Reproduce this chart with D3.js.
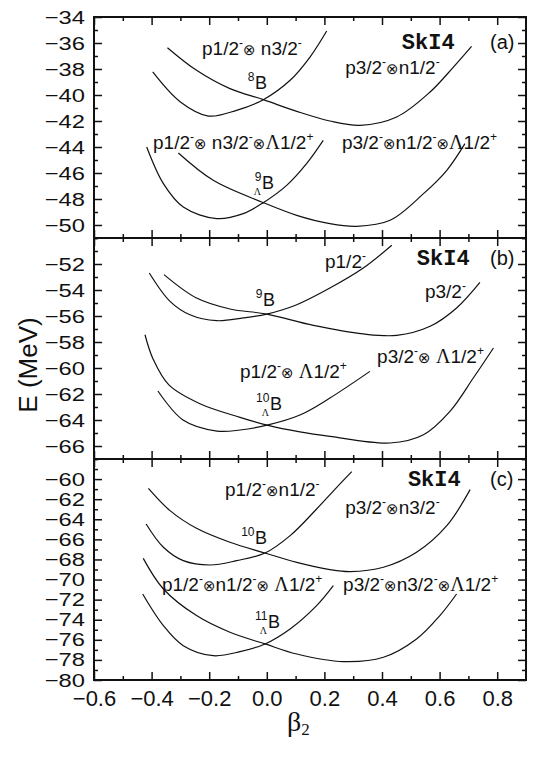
<!DOCTYPE html>
<html lang="en">
<head>
<meta charset="UTF-8">
<title>SkI4 deformation curves</title>
<style>
  body { margin: 0; background: #fff; }
  svg { display: block; font-family: Arial, "Liberation Sans", sans-serif; }
  .curve { fill: none; stroke: #111; stroke-width: 1.2px; }
  .frame { fill: none; stroke: #111; stroke-width: 2px; }
  .tick line { stroke: #111; stroke-width: 1.5px; }
  .lbl { font-size: 19px; fill: #111; }
</style>
</head>
<body>
<svg width="538" height="758"></svg>
<script src="https://d3js.org/d3.v7.min.js"></script>
<script>
const width = 538, height = 758;
const left = 94, right = 526, top0 = 17, panelH = 221;

const xTicks = [-0.6, -0.4, -0.2, 0.0, 0.2, 0.4, 0.6, 0.8];
const xMinor = [-0.5, -0.3, -0.1, 0.1, 0.3, 0.5, 0.7];

// y ranges and labelled ticks per panel
const yDomA = [-51, -34], yDomB = [-67, -50], yDomC = [-80, -58];
const yTicksA = [-50, -48, -46, -44, -42, -40, -38, -36, -34];
const yTicksB = [-66, -64, -62, -60, -58, -56, -54, -52];
const yTicksC = [-80, -78, -76, -74, -72, -70, -68, -66, -64, -62, -60];

// panel (a): 8B and 9ΛB
const a1_beta = [-0.396, -0.30, -0.203, -0.105, -0.012, 0.081, 0.15, 0.208];
const a1_E    = [-38.23, -40.54, -41.62, -41.18, -40.36, -38.87, -37.08, -35.08];
const a2_beta = [-0.345, -0.244, -0.128, -0.012, 0.104, 0.219, 0.324, 0.451, 0.567, 0.648, 0.711];
const a2_E    = [-36.36, -38.10, -39.51, -40.36, -41.26, -42.0, -42.33, -41.69, -39.77, -37.85, -36.26];
const a3_beta = [-0.417, -0.359, -0.29, -0.174, -0.082, -0.012, 0.069, 0.138, 0.196];
const a3_E    = [-44.0, -46.82, -48.62, -49.51, -49.13, -48.28, -46.95, -45.28, -43.49];
const a4_beta = [-0.307, -0.186, -0.012, 0.104, 0.219, 0.312, 0.428, 0.544, 0.625, 0.688];
const a4_E    = [-44.46, -46.56, -48.28, -49.26, -49.9, -50.1, -49.64, -47.59, -45.79, -43.74];

// panel (b): 9B and 10ΛB
const b1_beta = [-0.408, -0.336, -0.267, -0.174, -0.082, 0.0, 0.104, 0.219, 0.335, 0.434];
const b1_E    = [-52.69, -54.87, -55.9, -56.36, -56.15, -55.85, -55.13, -53.85, -52.31, -50.56];
const b2_beta = [-0.357, -0.244, -0.128, 0.0, 0.162, 0.335, 0.451, 0.567, 0.659, 0.74];
const b2_E    = [-52.82, -54.62, -55.46, -55.85, -56.72, -57.38, -57.49, -56.79, -55.38, -53.41];
const b3_beta = [-0.378, -0.291, -0.173, -0.093, 0.001, 0.115, 0.219, 0.358];
const b3_E    = [-61.77, -64.0, -64.85, -64.77, -64.4, -63.62, -62.31, -60.26];
const b4_beta = [-0.423, -0.395, -0.34, -0.232, -0.093, 0.001, 0.115, 0.219, 0.428, 0.544, 0.636, 0.717, 0.787];
const b4_E    = [-57.44, -59.3, -61.3, -62.75, -63.8, -64.4, -64.92, -65.26, -65.77, -65.13, -63.33, -60.77, -58.46];

// panel (c): 10B and 11ΛB
const c1_beta = [-0.419, -0.359, -0.29, -0.197, -0.105, -0.006, 0.081, 0.173, 0.243, 0.295];
const c1_E    = [-64.47, -66.79, -68.12, -68.55, -68.12, -67.36, -65.63, -62.98, -60.82, -59.26];
const c2_beta = [-0.411, -0.336, -0.244, -0.128, -0.006, 0.104, 0.219, 0.289, 0.405, 0.52, 0.625, 0.706];
const c2_E    = [-60.92, -63.14, -64.9, -66.29, -67.36, -68.29, -69.01, -69.21, -68.78, -67.29, -64.64, -61.05];
const c3_beta = [-0.431, -0.359, -0.29, -0.186, -0.093, -0.006, 0.081, 0.173, 0.231];
const c3_E    = [-71.44, -74.59, -76.58, -77.58, -77.18, -76.41, -74.92, -72.6, -70.61];
const c4_beta = [-0.429, -0.359, -0.244, -0.128, -0.006, 0.104, 0.266, 0.405, 0.52, 0.601, 0.659];
const c4_E    = [-67.89, -70.94, -73.59, -75.25, -76.41, -77.41, -78.17, -77.74, -75.92, -73.59, -71.44];

// configuration labels: text, beta, E
const labelsA = [["p1/2^-⊗ n3/2^-", -0.225, -36.92], ["p3/2^-⊗n1/2^-", 0.272, -38.38],
                 ["p1/2^-⊗ n3/2^-⊗Λ1/2^+", -0.395, -44.15], ["p3/2^-⊗n1/2^-⊗Λ1/2^+", 0.261, -44.15]];
const labelsB = [["p1/2^-", 0.202, -52.31], ["p3/2^-", 0.549, -54.62],
                 ["p1/2^-⊗ Λ1/2^+", -0.093, -60.77], ["p3/2^-⊗ Λ1/2^+", 0.383, -59.62]];
const labelsC = [["p1/2^-⊗n1/2^-", -0.145, -61.68], ["p3/2^-⊗n3/2^-", 0.272, -63.47],
                 ["p1/2^-⊗n1/2^-⊗ Λ1/2^+", -0.364, -71.13], ["p3/2^-⊗n3/2^-⊗Λ1/2^+", 0.265, -71.13]];
// nuclides: mass, hypernucleus?, beta, E
const nucA = [["8", false, -0.041, -39.54], ["9", true, -0.017, -47.23]];
const nucB = [["9", false, -0.013, -55.23], ["10", true, 0.011, -63.23]];
const nucC = [["10", false, -0.041, -66.46], ["11", true, 0.004, -74.82]];
const tags = ["(a)", "(b)", "(c)"];
const forceName = "SkI4";
const tagPos = [[0.469, -36.46], [0.521, -52.08], [0.49, -60.69]];

const svg = d3.select("svg");
svg.append("rect").attr("width", width).attr("height", height).attr("fill", "#fff");

const x = d3.scaleLinear().domain([-0.6, 0.9]).range([left, right]);
const line = d3.line().curve(d3.curveCatmullRom.alpha(0.5));

const panels = [
  {dom: yDomA, ticks: yTicksA, curves: [[a1_beta, a1_E], [a2_beta, a2_E], [a3_beta, a3_E], [a4_beta, a4_E]], labels: labelsA, nuc: nucA},
  {dom: yDomB, ticks: yTicksB, curves: [[b1_beta, b1_E], [b2_beta, b2_E], [b3_beta, b3_E], [b4_beta, b4_E]], labels: labelsB, nuc: nucB},
  {dom: yDomC, ticks: yTicksC, curves: [[c1_beta, c1_E], [c2_beta, c2_E], [c3_beta, c3_E], [c4_beta, c4_E]], labels: labelsC, nuc: nucC}
];

function richText(g, str, px, py) {
  const t = g.append("text").attr("class", "lbl").attr("x", px).attr("y", py);
  const parts = str.split(/(\^.|⊗|Λ)/).filter(s => s);
  let raised = false;
  parts.forEach(p => {
    if (p[0] === "^") {
      t.append("tspan").attr("dy", -8).attr("font-size", 12).text(p[1]);
      raised = true;
    } else {
      const s = t.append("tspan").text(p);
      if (raised) { s.attr("dy", 8); raised = false; }
      if (p === "⊗") s.attr("font-family", "DejaVu Sans").attr("font-size", 15);
      if (p === "Λ") s.attr("font-family", "Liberation Serif").attr("font-size", 20);
    }
  });
}

panels.forEach((p, i) => {
  const y0 = top0 + i * panelH, y1 = y0 + panelH;
  const y = d3.scaleLinear().domain(p.dom).range([y1, y0]);
  const g = svg.append("g");
  const minor = d3.range(Math.ceil(p.dom[0]), p.dom[1] + 0.001, 1).filter(v => !p.ticks.includes(v));

  // left axis with labels
  const yl = g.append("g").attr("transform", `translate(${left},0)`)
    .call(d3.axisLeft(y).tickValues(p.ticks).tickSize(-8).tickPadding(9).tickFormat(d3.format("d")));
  yl.selectAll("text").attr("font-size", 19).attr("font-family", "Arial, sans-serif").attr("fill", "#111")
    .attr("transform", "scale(1.25,1)").attr("x", -9 / 1.25);
  g.append("g").attr("transform", `translate(${left},0)`)
    .call(d3.axisLeft(y).tickValues(minor).tickSize(-4).tickFormat(""));
  g.append("g").attr("transform", `translate(${right},0)`)
    .call(d3.axisRight(y).tickValues(p.ticks).tickSize(-8).tickFormat(""));
  g.append("g").attr("transform", `translate(${right},0)`)
    .call(d3.axisRight(y).tickValues(minor).tickSize(-4).tickFormat(""));

  // top and bottom x ticks
  g.append("g").attr("transform", `translate(0,${y0})`)
    .call(d3.axisTop(x).tickValues(xTicks).tickSize(-8).tickFormat(""));
  g.append("g").attr("transform", `translate(0,${y0})`)
    .call(d3.axisTop(x).tickValues(xMinor).tickSize(-4).tickFormat(""));
  const xb = g.append("g").attr("transform", `translate(0,${y1})`)
    .call(d3.axisBottom(x).tickValues(xTicks).tickSize(-8).tickPadding(10)
      .tickFormat(i === 2 ? d3.format(".1f") : ""));
  xb.selectAll("text").attr("font-size", 22).attr("font-family", "Arial, sans-serif").attr("fill", "#111");
  g.append("g").attr("transform", `translate(0,${y1})`)
    .call(d3.axisBottom(x).tickValues(xMinor).tickSize(-4).tickFormat(""));

  g.selectAll(".domain").remove();
  g.append("rect").attr("class", "frame").attr("x", left).attr("y", y0)
    .attr("width", right - left).attr("height", panelH);

  // curves
  p.curves.forEach(([bs, es]) => {
    g.append("path").attr("class", "curve")
      .attr("d", line(bs.map((b, k) => [x(b), y(es[k])])));
  });

  // labels
  p.labels.forEach(([s, b, e]) => richText(g, s, x(b), y(e)));

  p.nuc.forEach(([m, hyper, b, e]) => {
    const bx = x(b), by = y(e);
    g.append("text").attr("x", bx).attr("y", by).attr("font-size", 18).attr("fill", "#111").text("B");
    g.append("text").attr("x", bx - 0.5).attr("y", by - 8).attr("font-size", 12)
      .attr("text-anchor", "end").attr("fill", "#111").text(m);
    if (hyper) {
      g.append("text").attr("x", bx - 1).attr("y", by + 6).attr("font-size", 10)
        .attr("font-family", "Liberation Serif, serif").attr("text-anchor", "end").attr("fill", "#111").text("Λ");
    }
  });

  g.append("text").attr("x", x(tagPos[i][0])).attr("y", y(tagPos[i][1]))
    .attr("font-family", "'Liberation Mono', 'Courier New', monospace").attr("font-weight", "bold")
    .attr("font-size", 22).attr("fill", "#111").text(forceName);
  g.append("text").attr("x", x(0.775)).attr("y", y(tagPos[i][1]))
    .attr("font-size", 20).attr("fill", "#111").text(tags[i]);
});

// axis titles
svg.append("text").attr("transform", "translate(37,365) rotate(-90)")
  .attr("text-anchor", "middle").attr("font-size", 26).attr("fill", "#111").text("E (MeV)");
const bt = svg.append("text").attr("x", 287).attr("y", 731)
  .attr("font-family", "'Liberation Serif', 'Times New Roman', serif").attr("font-size", 28).attr("fill", "#111");
bt.append("tspan").text("β");
bt.append("tspan").attr("font-size", 17).attr("dy", 4).text("2");
</script>
</body>
</html>
